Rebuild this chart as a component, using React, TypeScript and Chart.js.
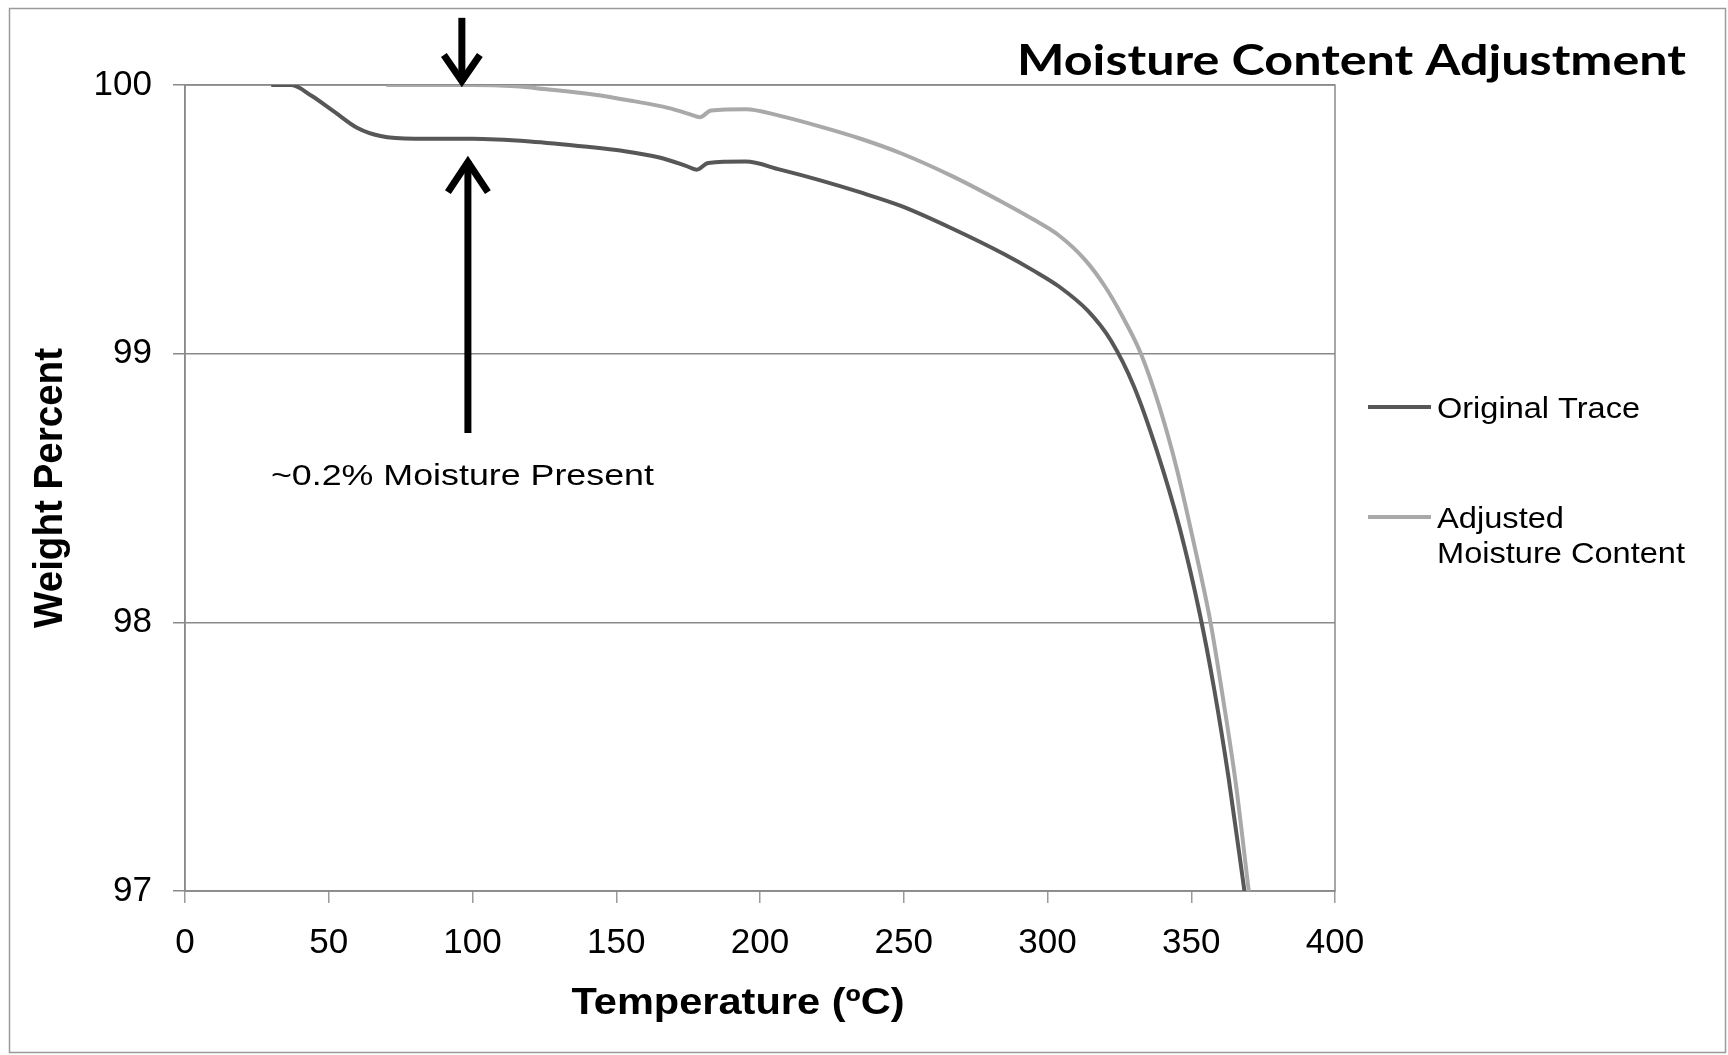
import React, { useEffect, useRef } from "react";
import { Chart, registerables } from "chart.js";

Chart.register(...registerables);

// ---- Data ----
const originalTemp = [30, 37, 44, 52, 60, 68, 80, 100, 120, 140, 152, 165, 174, 178, 182, 195, 207, 221, 235, 249, 267, 285, 295, 304, 314, 322, 330, 338, 346, 353, 358, 363, 368.5];
const originalWeight = [100, 100, 99.96, 99.9, 99.84, 99.81, 99.8, 99.8, 99.79, 99.77, 99.755, 99.73, 99.7, 99.685, 99.71, 99.715, 99.685, 99.645, 99.6, 99.55, 99.465, 99.37, 99.31, 99.25, 99.16, 99.05, 98.88, 98.64, 98.35, 98.03, 97.75, 97.42, 97.0];

const adjustedTemp = [70, 100, 115, 125, 142, 156, 168, 176, 179, 183, 195, 207, 221, 235, 249, 267, 285, 295, 304, 313, 320, 326, 332.5, 339, 345, 351, 356.7, 361, 365.5, 370];
const adjustedWeight = [100, 100, 99.995, 99.985, 99.965, 99.94, 99.915, 99.89, 99.88, 99.905, 99.91, 99.885, 99.845, 99.8, 99.746, 99.66, 99.56, 99.5, 99.44, 99.35, 99.25, 99.14, 99.0, 98.8, 98.57, 98.29, 98.0, 97.72, 97.4, 97.0];

const xTickValues = [0, 50, 100, 150, 200, 250, 300, 350, 400];
const yTickValues = [97, 98, 99, 100];

const chartTitle = "Moisture Content Adjustment";
const xAxisTitle = "Temperature (\u00baC)";
const yAxisTitle = "Weight Percent";
const seriesNames = ["Original Trace", "Adjusted Moisture Content"];
const legendLines = [["Original Trace"], ["Adjusted", "Moisture Content"]];

// annotation anchors in data units (temperature, weight)
const annotationText = "~0.2% Moisture Present";
const annotationTextAt = [96.5, 98.51];
const downArrow = { t: 96.3, from: 100.25, to: 100.0 };
const upArrow = { t: 98.4, from: 98.705, to: 99.728 };

const DARK = "#575757";
const LIGHT = "#a9a9a9";
const GRID = "#8a8a8a";
const SANS = "'Liberation Sans', Arial, sans-serif";

function fitText(
  ctx: CanvasRenderingContext2D,
  text: string,
  x: number,
  y: number,
  font: string,
  targetWidth: number,
  align: CanvasTextAlign
) {
  ctx.save();
  ctx.font = font;
  const w = ctx.measureText(text).width;
  const sx = targetWidth / w;
  ctx.translate(x, y);
  ctx.scale(sx, 1);
  ctx.textAlign = align;
  ctx.textBaseline = "alphabetic";
  ctx.fillStyle = "#000";
  ctx.fillText(text, 0, 0);
  ctx.restore();
}

function drawArrow(ctx: CanvasRenderingContext2D, x: number, y0: number, y1: number, headW: number, headH: number) {
  const dir = y1 > y0 ? 1 : -1;
  ctx.save();
  ctx.strokeStyle = "#000";
  ctx.lineWidth = 7;
  ctx.lineCap = "butt";
  ctx.beginPath();
  ctx.moveTo(x, y0);
  ctx.lineTo(x, y1 - dir * 3);
  ctx.stroke();
  ctx.lineJoin = "miter";
  ctx.beginPath();
  ctx.moveTo(x - headW / 2, y1 - dir * headH);
  ctx.lineTo(x, y1 - dir * 4);
  ctx.lineTo(x + headW / 2, y1 - dir * headH);
  ctx.stroke();
  ctx.restore();
}

const decorPlugin = {
  id: "decor",
  beforeDraw(chart: any) {
    const { ctx, width, height } = chart;
    ctx.save();
    ctx.fillStyle = "#fff";
    ctx.fillRect(0, 0, width, height);
    ctx.strokeStyle = "#9a9a9a";
    ctx.lineWidth = 1.5;
    ctx.strokeRect(9.5, 8.5, 1716, 1044);
    ctx.restore();
  },
  beforeDatasetsDraw(chart: any) {
    const { ctx, chartArea } = chart;
    ctx.save();
    ctx.strokeStyle = GRID;
    ctx.lineWidth = 1.5;
    ctx.strokeRect(chartArea.left, chartArea.top, chartArea.right - chartArea.left, chartArea.bottom - chartArea.top);
    ctx.restore();
  },
  afterDraw(chart: any) {
    const { ctx, chartArea, scales } = chart;
    const xs = scales.x;
    const ys = scales.y;

    // Title
    fitText(ctx, chartTitle, 1686, 75, `bold 42px Lato, 'Open Sans', sans-serif`, 669, "right");

    // Axis titles
    fitText(ctx, xAxisTitle, 738, 1014, `bold 36px ${SANS}`, 333, "center");
    ctx.save();
    ctx.translate(62, (chartArea.top + chartArea.bottom) / 2);
    ctx.rotate(-Math.PI / 2);
    ctx.scale(1, 1.08);
    ctx.font = `bold 38px ${SANS}`;
    ctx.textAlign = "center";
    ctx.textBaseline = "alphabetic";
    ctx.fillStyle = "#000";
    const yw = ctx.measureText(yAxisTitle).width;
    ctx.scale(280 / yw, 1);
    ctx.fillText(yAxisTitle, 0, 0);
    ctx.restore();

    // Legend
    const lx0 = chartArea.right + 33;
    const lx1 = chartArea.right + 96;
    const tx = chartArea.right + 102;
    ctx.save();
    ctx.lineWidth = 4;
    ctx.strokeStyle = DARK;
    ctx.beginPath();
    ctx.moveTo(lx0, 407);
    ctx.lineTo(lx1, 407);
    ctx.stroke();
    ctx.strokeStyle = LIGHT;
    ctx.beginPath();
    ctx.moveTo(lx0, 517);
    ctx.lineTo(lx1, 517);
    ctx.stroke();
    ctx.restore();
    fitText(ctx, legendLines[0][0], tx, 418, `30px ${SANS}`, 203, "left");
    fitText(ctx, legendLines[1][0], tx, 528, `30px ${SANS}`, 127, "left");
    fitText(ctx, legendLines[1][1], tx, 563, `30px ${SANS}`, 248, "left");

    // Annotation
    drawArrow(ctx, xs.getPixelForValue(downArrow.t), ys.getPixelForValue(downArrow.from), ys.getPixelForValue(downArrow.to), 36, 30);
    drawArrow(ctx, xs.getPixelForValue(upArrow.t), ys.getPixelForValue(upArrow.from), ys.getPixelForValue(upArrow.to), 40, 34);
    fitText(
      ctx,
      annotationText,
      xs.getPixelForValue(annotationTextAt[0]),
      ys.getPixelForValue(annotationTextAt[1]),
      `30px ${SANS}`,
      383,
      "center"
    );
  },
};

export default function App() {
  const canvasRef = useRef<HTMLCanvasElement | null>(null);

  useEffect(() => {
    const canvas = canvasRef.current;
    if (!canvas) return;
    const chart = new Chart(canvas, {
      type: "line",
      data: {
        datasets: [
          {
            label: seriesNames[1],
            data: adjustedTemp.map((t, i) => ({ x: t, y: adjustedWeight[i] })),
            borderColor: LIGHT,
            backgroundColor: LIGHT,
            borderWidth: 4,
            pointRadius: 0,
            cubicInterpolationMode: "monotone",
            fill: false,
          },
          {
            label: seriesNames[0],
            data: originalTemp.map((t, i) => ({ x: t, y: originalWeight[i] })),
            borderColor: DARK,
            backgroundColor: DARK,
            borderWidth: 4,
            pointRadius: 0,
            cubicInterpolationMode: "monotone",
            fill: false,
          },
        ],
      },
      options: {
        animation: false,
        responsive: false,
        devicePixelRatio: 1,
        events: [],
        layout: { padding: { left: 0, right: 393, top: 85, bottom: 0 } },
        plugins: {
          legend: { display: false },
          title: { display: false },
          tooltip: { enabled: false },
        },
        scales: {
          x: {
            type: "linear",
            min: 0,
            max: 400,
            afterBuildTicks: (s: any) => {
              s.ticks = xTickValues.map((v) => ({ value: v }));
            },
            afterFit: (s: any) => {
              s.height = 164;
            },
            ticks: {
              color: "#000",
              font: { family: SANS, size: 35 },
              padding: 19,
              maxRotation: 0,
              autoSkip: false,
            },
            grid: {
              display: true,
              drawOnChartArea: false,
              drawTicks: true,
              tickLength: 12,
              color: "#9a9a9a",
              lineWidth: 1.5,
            },
            border: { display: true, color: GRID, width: 1.5 },
          },
          y: {
            type: "linear",
            min: 97,
            max: 100,
            afterBuildTicks: (s: any) => {
              s.ticks = yTickValues.map((v) => ({ value: v }));
            },
            afterFit: (s: any) => {
              s.width = 185;
            },
            ticks: {
              color: "#000",
              font: { family: SANS, size: 35 },
              padding: 21,
            },
            grid: {
              display: true,
              drawTicks: true,
              tickLength: 12,
              color: GRID,
              lineWidth: 1.5,
            },
            border: { display: true, color: GRID, width: 1.5 },
          },
        },
      },
      plugins: [decorPlugin],
    } as any);
    return () => chart.destroy();
  }, []);

  return (
    <div style={{ position: "fixed", left: 0, top: 0, width: 1728, height: 1055, background: "#fff" }}>
      <canvas ref={canvasRef} width={1728} height={1055} style={{ display: "block", width: 1728, height: 1055 }} />
    </div>
  );
}
